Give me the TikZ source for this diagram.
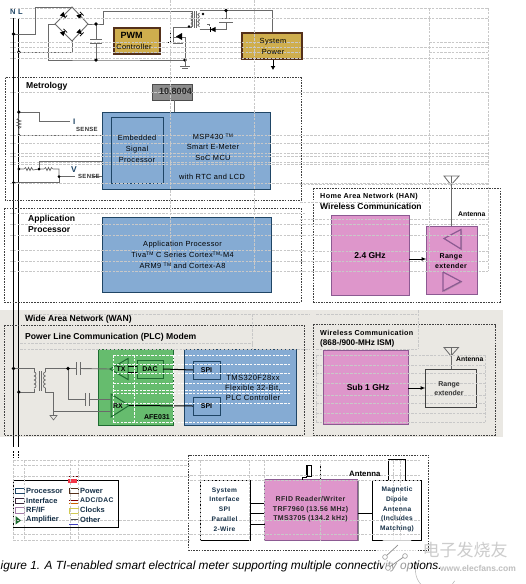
\documentclass[tikz,border=0pt]{standalone}
\usepackage{fontspec}
\setmainfont{Liberation Sans}
\newfontfamily\wide[LetterSpace=5]{Liberation Sans}
\newfontfamily\cjkwm{Noto Sans CJK SC}
\usetikzlibrary{shadows,arrows.meta,shapes.geometric}
\definecolor{wire}{HTML}{6A6A6A}
\definecolor{gold}{HTML}{CFAE4E}
\definecolor{goldedge}{HTML}{54301A}
\definecolor{tiblue}{HTML}{85ABD3}
\definecolor{blueedge}{HTML}{1F4565}
\definecolor{pinkfill}{HTML}{DE96CB}
\definecolor{pinkedge}{HTML}{8C5A92}
\definecolor{greenfill}{HTML}{66BC6E}
\definecolor{greenedge}{HTML}{1E6B30}
\definecolor{wanbg}{HTML}{EAE8E3}
\definecolor{gridc}{HTML}{C8C8C8}
\tikzset{
  x=1pt,y=-1pt,
  basebox/.style={rectangle,inner sep=0pt,outer sep=0pt},
  shade box/.style={drop shadow={shadow xshift=1.2pt,shadow yshift=-1.2pt,opacity=.45,fill=black}},
  goldbox/.style={basebox,draw=goldedge,line width=1.1pt,fill=gold,shade box},
  bluebox/.style={basebox,draw=blueedge,line width=1pt,fill=tiblue,shade box},
  pinkbox/.style={basebox,draw=pinkedge,line width=1pt,fill=pinkfill,shade box},
  greenbox/.style={basebox,draw=greenedge,line width=1pt,fill=greenfill,shade box},
  whitebox/.style={basebox,draw=black,line width=.9pt,fill=white},
  plainbox/.style={basebox,draw=wire!60!black,line width=.9pt,fill=none},
  region/.style={draw=black!75,dash pattern=on 1.6pt off 1.1pt,line width=.8pt},
  wireline/.style={draw=wire,line width=.9pt},
  sigline/.style={draw=black,line width=1pt},
  dot/.style={circle,fill=black,inner sep=0pt,minimum size=3.6pt},
  lab/.style={inner sep=0pt,anchor=west,font=\fontsize{8.6}{10.5}\selectfont\bfseries,text=black},
  widelab/.style={inner sep=0pt,anchor=west,font=\wide\fontsize{8}{10}\selectfont,text=black},
  small/.style={inner sep=0pt,anchor=west,font=\fontsize{7.2}{9}\selectfont,text=black},
  boxtext/.style={inner sep=0pt,align=center,font=\wide\fontsize{7.4}{10.5}\selectfont,text=black},
  smalltext/.style={inner sep=0pt,align=center,font=\fontsize{7}{8}\selectfont\bfseries,text=black},
  sidetext/.style={inner sep=0pt,align=center,font=\wide\fontsize{6.6}{9.8}\selectfont\bfseries,text=blueedge!70!black},
  gridline/.style={draw=gridc,line width=.55pt,dash pattern=on 2.6pt off 1.2pt},
  gridwhite/.style={draw=white!90!gridc,line width=.55pt,dash pattern=on 2.6pt off 1.2pt},
}
\newcommand{\bx}[6]{\node[#6,minimum width={(#4-#2)*1pt},minimum height={(#5-#3)*1pt}] (#1) at ({(#2+#4)/2},{(#3+#5)/2}) {};}
\newcommand{\hg}[3]{\draw[gridline] (#2,#1) -- (#3,#1);}
\newcommand{\vg}[3]{\draw[gridline] (#1,#2) -- (#1,#3);}
\newcommand{\tmk}{\raisebox{2pt}{\fontsize{5}{6}\selectfont TM}}
\newcommand{\diodeat}[3]{\fill[black,shift={(#1,#2)},rotate=#3] (-2.6,-2.6) -- (-2.6,2.6) -- (2.6,0) -- cycle;\draw[black,line width=.8pt,shift={(#1,#2)},rotate=#3] (2.6,-2.6) -- (2.6,2.6);}
\begin{document}
\begin{tikzpicture}
\useasboundingbox (0,0) rectangle (526,584);
\fill[white] (0,0) rectangle (526,584);
% WAN band
\fill[wanbg] (0,310) rectangle (503,437);

% mains lines
\coordinate (Ntop) at (13.5,18); \coordinate (Nbot) at (13.5,447);
\coordinate (Ltop) at (18.8,18); \coordinate (Lbot) at (18.8,447);
\draw[black,line width=1pt] (Ntop) -- (Nbot);
\draw[black,line width=1pt] (Ltop) -- (Lbot);
\draw[black,line width=1pt,dash pattern=on 2pt off 1.2pt] (13.5,451) -- (13.5,458);
\draw[black,line width=1pt,dash pattern=on 2pt off 1.2pt] (18.8,451) -- (18.8,458);
\node[inner sep=0pt,font=\fontsize{7.5}{9}\selectfont\bfseries,text=blueedge] (Nlab) at (12.8,12) {N};
\node[inner sep=0pt,font=\fontsize{7.5}{9}\selectfont\bfseries,text=blueedge] (Llab) at (20.5,12) {L};

% bridge
\coordinate (brT) at (72,7); \coordinate (brL) at (55,24); \coordinate (brR) at (88,24); \coordinate (brB) at (72,41);
\draw[wireline] (brT) -- (brR) -- (brB) -- (brL) -- cycle;
\diodeat{63.5}{15.5}{-45}\diodeat{80}{15.5}{45}\diodeat{63.5}{32.5}{45}\diodeat{80}{32.5}{-45}
\coordinate (Nj) at (13.5,34); \coordinate (Lj) at (18.8,52);
\coordinate (capT) at (96,24); \coordinate (capB) at (96,60); \coordinate (srcj) at (185,60);
\draw[wireline] (Nj) -| (35,7) -- (brT);
\draw[wireline] (Lj) -| (brB);
\draw[wireline] (brL) -| (48,60) -- (capB) -- (srcj);
\draw[wireline] (brR) -- (capT) -- (103,24) |- (192,11);
\draw[wireline] (capT) -- (96,39.5);
\draw[wireline] (96,43.5) -- (capB);
\draw[wire,line width=1pt] (90,39.5) -- (102,39.5);
\draw[wire,line width=1pt] (90,43.5) -- (102,43.5);
\foreach \c in {Nj,Lj,capT,capB,srcj} \node[dot] at (\c) {};

% PWM
\bx{pwm}{114}{28}{160}{54}{goldbox}
% MOSFET
\coordinate (gate) at (170,42.5);
\draw[black,line width=.7pt,dash pattern=on 1pt off 1pt] (pwm.east |- gate) -- (gate);
\draw[black,line width=.9pt] (170,31) -- (170,43);
\draw[wire,line width=.9pt] (173,31) -- (173,44);
\draw[wire,line width=.9pt] (173,27) -- (192,27);
\draw[wire,line width=.9pt] (173,31) -- (173,27);
\draw[wire,line width=.9pt] (173,37) -- (185,37) -- (srcj);
\fill[black] (176,36.5) -- (182,33) -- (182,40) -- cycle;
\draw[wire,line width=.9pt] (173,43) -- (183,43);
\draw[wire,line width=.9pt] (srcj) -- (185,66);
\draw[wire,line width=.9pt] (180,66.5) -- (190,66.5);
\draw[wire,line width=.6pt] (182,68.5) -- (188,68.5);
% transformer
\draw[wire,line width=.9pt] (192,11) -- (192,27);
\foreach \y in {13,16.5,20,23.5}{\draw[wire,line width=.8pt] (191,\y) arc (-90:90:1.7);\draw[wire,line width=.8pt] (199.5,\y+3.4) arc (90:270:1.7);}
\draw[wire,line width=.9pt] (194.5,11) -- (194.5,28);
\draw[wire,line width=.9pt] (196.5,11) -- (196.5,28);
\node[dot,minimum size=2.8pt] at (203,14) {};
\node[dot,minimum size=2.8pt] at (189,26.5) {};
% secondary
\coordinate (secT) at (226,10.5);
\draw[wire,line width=.9pt] (199.5,10.5) -- (secT) -- (272,10.5) -- (272,33);
\draw[wire,line width=.9pt] (199.5,29.5) -- (226,29.5);
\draw[wire,line width=.9pt] (226,29.5) -- (226,22);
\draw[wire,line width=.9pt] (secT) -- (226,18);
\draw[wire,line width=1pt] (219,18.5) -- (233,18.5);
\draw[wire,line width=1pt] (219,22) -- (233,22);
\diodeat{213}{29.5}{180}
\draw[wire,line width=.7pt] (207,24) -- (209,24) -- (209,26);
\node[dot] at (secT) {};
% system power
\bx{sys}{242}{33}{302}{59}{goldbox}
\coordinate (sysout) at (273,70);
\draw[black,line width=1pt,-{Latex[length=4pt,width=5pt]}] (273,59.5) -- (sysout);

% Metrology
\draw[region] (5,77.5) rectangle (301,200);
\bx{lcd}{152}{84}{192}{100}{basebox}
\fill[black!45] (lcd.north west) rectangle (lcd.south east);
\draw[black!70,line width=.6pt] (lcd.north west) rectangle (lcd.south east);
\bx{msp}{102}{112}{270}{189}{bluebox}
\bx{dsp}{111}{117}{163}{183}{bluebox}
\coordinate (lcdwire) at (174,100);
\draw[wireline] (lcdwire) -- (lcdwire |- msp.north);
% sense
\coordinate (Ij) at (18.8,112); \coordinate (Ij2) at (18.8,135);
\draw[wireline] (Ij) -- (39,112) -- (39,121.5) -- (70,121.5);
\draw[wire,line width=.7pt] (18.8,112) -- (18.8,118) -- (17,119.5) -- (21,121) -- (17,122.5) -- (21,124) -- (17,125.5) -- (21,127) -- (18.8,128.5) -- (Ij2);
\node[dot] at (Ij) {};
\node[dot,minimum size=2.5pt] at (Ij2) {};
\draw[wireline] (Ij2) -- (102,135);
\coordinate (Vj) at (18.8,169); \coordinate (Vm) at (39,169); \coordinate (Vr) at (59,176.5);
\draw[wire,line width=.7pt] (Vj) -- (24,169) -- (25.5,167.5) -- (27,170.5) -- (28.5,167.5) -- (30,170.5) -- (31.5,167.5) -- (33,170) -- (Vm) -- (44,169) -- (45.5,167.5) -- (47,170.5) -- (48.5,167.5) -- (50,170.5) -- (51.5,167.5) -- (53,169) -- (59,169) -- (Vr);
\draw[wireline] (Vm) |- (102,161);
\draw[wireline] (Vr) -- (59,182.5) -- (13.5,182.5);
\draw[wireline] (Vr) -- (75,176.5);
\draw[wireline] (92,176.5) -- (102,176.5);
\foreach \c in {Vj,Vm,Vr} \node[dot,minimum size=3pt] at (\c) {};
\node[dot,minimum size=3pt] at (13.5,182.5) {};

% Application
\draw[region] (4,208) rectangle (301,302);
\bx{apb}{102}{217}{271}{292}{bluebox}

% HAN
\draw[region] (313.5,188) rectangle (500,302);
\bx{ghz}{331}{215}{409}{295}{pinkbox}
\bx{rng}{426.5}{226}{477}{294}{pinkbox}
\coordinate (arr1) at (0,259);
\draw[sigline,-{Latex[length=5pt,width=4pt]}] (ghz.east |- arr1) -- (rng.west |- arr1);
\coordinate (ant1b) at (451,226); \coordinate (ant1t) at (451,176);
\draw[wireline] (ant1b) -- (ant1t);
\draw[wire,line width=.8pt] (444,176) -- (459,176) -- (451,185) -- cycle;
\draw[pinkedge,line width=1.2pt,fill=pinkfill,drop shadow={shadow xshift=1pt,shadow yshift=-1pt,opacity=.4}] (444,238.5) -- (461,229.5) -- (461,249) -- cycle;
\draw[pinkedge,line width=1.2pt,fill=pinkfill,drop shadow={shadow xshift=1pt,shadow yshift=-1pt,opacity=.4}] (443,272) -- (461,281.5) -- (443,291) -- cycle;

% WAN
\draw[region] (4,325) rectangle (304,435);
\bx{afe}{98}{349}{173}{425}{greenbox}
\bx{f28}{184}{349}{296}{425}{bluebox}
\bx{spi1}{193}{361}{220}{379}{bluebox}
\bx{spi2}{193}{397}{220}{415}{bluebox}
\bx{dac}{137}{360}{163}{378}{greenbox}
\coordinate (txtip) at (110,369);
\draw[greenedge,line width=1pt,fill=greenfill] (txtip) -- (128,358.5) -- (128,379.5) -- cycle;
\coordinate (rxtip) at (129,405.5);
\draw[greenedge,line width=1pt,fill=greenfill] (111,394) -- (rxtip) -- (111,417) -- cycle;
\draw[black,line width=.9pt] (128,366) -- (137,366);
\draw[black,line width=.9pt] (128,372) -- (137,372);
\draw[black,line width=1pt] (dac.east) -- (spi1.west);
\draw[black,line width=1pt] (rxtip) -- (spi2.west);
% PLC analog front
\coordinate (N2) at (13.5,368.5); \coordinate (L2) at (18.8,392); \coordinate (tj) at (68,368.5);
\draw[wireline] (N2) -- (34,368.5) -- (34,372);
\draw[wireline] (L2) -- (34,392) -- (34,389);
\foreach \y in {372,376,380,384}{\draw[wire,line width=.7pt] (34,\y) arc (-90:90:2);\draw[wire,line width=.7pt] (45.5,\y+4) arc (90:270:2);}
\draw[wire,line width=.9pt] (39.5,371) -- (39.5,391);
\draw[wire,line width=.9pt] (41.5,371) -- (41.5,391);
\draw[wireline] (45.5,372) -- (45.5,368.5) -- (tj) -- (76,368.5);
\draw[wire,line width=1pt] (76,362) -- (76,375);
\draw[wire,line width=1pt] (80,362) -- (80,375);
\draw[wireline] (80,368.5) -- (txtip);
\draw[wireline] (tj) -- (68,399.5) -- (85,399.5);
\draw[wire,line width=1pt] (85,393) -- (85,406);
\draw[wire,line width=1pt] (89,393) -- (89,406);
\draw[wireline] (89,399.5) -- (111,399.5);
\draw[wireline] (45.5,388) -- (45.5,392) -- (53.5,392) -- (53.5,411) -- (111,411);
\draw[wireline] (53.5,411) -- (53.5,415);
\draw[wire,line width=.6pt] (50,415.5) -- (57,415.5) -- (53.5,420) -- cycle;
\foreach \c in {N2,L2,tj} \node[dot] at (\c) {};

% Wireless WAN
\draw[region] (313,324.5) rectangle (495,435);
\bx{sub}{323.5}{350}{408}{424}{pinkbox}
\bx{rng2}{425.5}{369}{476}{407.5}{plainbox}
\coordinate (arr2) at (0,388);
\draw[sigline,-{Latex[length=5pt,width=4pt]}] (sub.east |- arr2) -- (rng2.west |- arr2);
\coordinate (ant2t) at (451,348);
\draw[wireline] (rng2.north -| ant2t) -- (ant2t);
\draw[wire,line width=.8pt] (444,347.5) -- (458.5,347.5) -- (451,356) -- cycle;

% Legend
\draw[black,line width=.9pt] (13,480) rectangle (118.5,527);
\fill[red!65!pinkfill] (68,479) rectangle (77,483);
\draw[red!40!black,line width=.7pt] (68,476.5) -- (78,476.5);
\draw[blueedge,line width=.8pt] (15.5,488) rectangle (24,493);
\draw[black!60!pinkedge,line width=.8pt] (15.5,498) rectangle (24,503);
\draw[pinkedge!80,line width=1pt] (15.5,507.5) rectangle (24,513);
\fill[greenedge] (15.5,516) -- (21,520.5) -- (15.5,524.5) -- cycle;
\draw[goldedge,line width=.8pt] (69,488) rectangle (78,493);
\draw[red!50!black,line width=.8pt] (69,500.5) -- (78,500.5);
\draw[orange!80!black,line width=.6pt] (69,503) -- (78,503);
\draw[yellow!60!gray,line width=.8pt] (69,508) rectangle (78,513);
\draw[black!70,line width=.6pt] (70,519.5) -- (78,519.5);
\draw[blue!50!gray,line width=.8pt] (69,524.5) -- (78,524.5);

% RFID
\draw[region] (188.5,455) rectangle (428.5,550);
\bx{sif}{200.5}{480.5}{250}{540}{whitebox}
\draw[black,line width=1.2pt,dash pattern=on 1pt off .6pt] (200.5,480.5) -- (250,480.5);
\bx{rfid}{264.5}{479}{357.5}{540}{pinkbox}
\bx{mag}{372.5}{480.5}{421.5}{540}{whitebox}
\draw[black,line width=1.2pt,dash pattern=on 1pt off .6pt] (372.5,480.5) -- (421.5,480.5);
\coordinate (ifa) at (0,503); \coordinate (ifb) at (0,513); \coordinate (ifc) at (0,524.5);
\draw[black,line width=.9pt] (sif.east |- ifa) -- (rfid.west |- ifa);
\draw[black,line width=.9pt] (sif.east |- ifb) -- (rfid.west |- ifb);
\draw[black,line width=.9pt] (sif.east |- ifc) -- (rfid.west |- ifc);
\draw[black,line width=.9pt] (rfid.east |- ifb) -- (mag.west |- ifb);
% RFID antenna
\draw[black,line width=.8pt] (302.5,481) -- (302.5,477.5) -- (306.5,477.5) -- (306.5,465);
\draw[black,line width=.5pt] (307,465) rectangle (311,476);
\draw[black,line width=.8pt] (320.5,481) -- (320.5,466);
\draw[black,line width=.9pt] (388.5,480) -- (388.5,459.5) -- (405.5,459.5) -- (405.5,480);

% grid lines
\foreach \y in {8,18,47,58,92,135,143,153,156,162,164,183} {\hg{\y}{10}{488}}
\foreach \y in {42,52} {\hg{\y}{429}{488}\hg{\y}{10}{300}}
\vg{170}{0}{272}
\vg{254}{0}{272}
\vg{429}{8}{271}
\vg{488}{8}{271}
\foreach \y in {202} {\hg{\y}{300}{423}}
\foreach \y in {184,219,224,235,251,261,271} {\hg{\y}{300}{488}}
\foreach \y in {213,224,235,250,261,271} {\hg{\y}{10}{305}}
\hg{314}{24}{310}\hg{343}{20}{252}\hg{349}{20}{310}\vg{252}{314}{349}
\hg{314}{316}{418}\hg{349}{316}{418}\vg{418}{310}{349}
\foreach \y in {355,365,373,383,395,403,413,422} {\hg{\y}{316}{485}}
\vg{316}{355}{422}\vg{485}{355}{422}
\foreach \y in {355,364,373,383,390,393,403,422} {\draw[gridwhite] (113,\y) -- (290,\y);}
\foreach \x in {113,134,173} {\draw[gridwhite] (\x,355) -- (\x,422);}
\foreach \y in {460,465,476,520,534,540} {\hg{\y}{13}{190}}
\foreach \y in {460,475,480,520,534} {\hg{\y}{190}{420}}
\foreach \x in {13,24,70,78} {\vg{\x}{460}{540}}
\foreach \x in {200,249,264,320} {\vg{\x}{460}{540}}
\foreach \x in {393,400} {\vg{\x}{461}{540}}

% ---- texts ----
\node[inner sep=0pt,font=\fontsize{9}{10}\selectfont\bfseries] (pwmt) at (131.5,35.5) {PWM};
\node[boxtext] (pwmb) at (134,47) {Controller};
\node[boxtext,font=\wide\fontsize{7.4}{11}\selectfont] (syst) at (273,46.5) {System\\Power};
\node[lab] (met) at (26,86.5) {Metrology};
\node[inner sep=0pt,font=\fontsize{9}{10}\selectfont\bfseries,text=black!85] (lcdt) at (175.5,91.5) {10.8004};
\node[boxtext] (dspa) at (137,138) {Embedded};
\node[boxtext] (dspb) at (137,154.5) {Signal\\Processor};
\node[boxtext,font=\wide\fontsize{7.4}{10.5}\selectfont] (mspt) at (213,147) {MSP430 \tmk\\Smart E-Meter\\SoC MCU};
\node[boxtext] (mspr) at (212,177) {with RTC and LCD};
\node[inner sep=0pt,anchor=west,font=\fontsize{8}{9}\selectfont\bfseries,text=blueedge] (Is) at (73,122) {I};
\node[inner sep=0pt,anchor=west,font=\wide\fontsize{6}{7}\selectfont\bfseries,text=black!80] (Iss) at (76,129) {SENSE};
\node[inner sep=0pt,anchor=west,font=\fontsize{8.5}{9}\selectfont\bfseries,text=blueedge] (Vs) at (71,170) {V};
\node[inner sep=0pt,anchor=west,font=\wide\fontsize{6}{7}\selectfont\bfseries,text=black!80] (Vss) at (78,176.5) {SENSE};
\node[lab,align=left,font=\fontsize{8.6}{11}\selectfont\bfseries] (app) at (28,224) {Application\\Processor};
\node[boxtext,font=\wide\fontsize{7.4}{11}\selectfont] (apbt) at (182.5,255) {Application Processor\\Tiva\tmk\ C Series Cortex\tmk-M4\\ARM9 \tmk\ and Cortex-A8};
\node[widelab,font=\wide\fontsize{7.2}{9}\selectfont\bfseries] (han) at (320,197) {Home Area Network (HAN)};
\node[lab,font=\fontsize{8.5}{10}\selectfont\bfseries] (han2) at (320,206.5) {Wireless Communication};
\node[inner sep=0pt,font=\fontsize{8.5}{10}\selectfont\bfseries] (ghzt) at (370,256) {2.4 GHz};
\node[boxtext,font=\wide\fontsize{7}{9.8}\selectfont\bfseries] (rngt) at (451,261) {Range\\extender};
\node[small,font=\fontsize{6.8}{8}\selectfont\bfseries] (ant1) at (458,214) {Antenna};
\node[lab] (wan) at (25,319) {Wide Area Network (WAN)};
\node[lab] (plc) at (25,337) {Power Line Communication (PLC) Modem};
\node[boxtext,font=\wide\fontsize{7.6}{10.2}\selectfont] (f28t) at (253,388) {TMS320F28xx\\Flexible 32-Bit,\\PLC Controller};
\node[smalltext] (spi1t) at (spi1.center) {SPI};
\node[smalltext] (spi2t) at (spi2.center) {SPI};
\node[smalltext] (dact) at (dac.center) {DAC};
\node[smalltext] (afet) at (157,417.5) {AFE031};
\node[smalltext] (txl) at (121,369) {TX};
\node[smalltext] (rxlb) at (118,406) {RX};
\node[widelab,font=\wide\fontsize{7.2}{9}\selectfont\bfseries] (isma) at (320,333) {Wireless Communication};
\node[lab,font=\fontsize{8.2}{10}\selectfont\bfseries] (ismb) at (320,343) {(868-/900-MHz ISM)};
\node[inner sep=0pt,font=\fontsize{8.5}{10}\selectfont\bfseries] (subt) at (368,387.5) {Sub 1 GHz};
\node[boxtext,font=\fontsize{7}{8.8}\selectfont\bfseries,text=black!80] (rng2t) at (449,389) {Range\\extender};
\node[small,font=\fontsize{6.8}{8}\selectfont\bfseries] (ant2) at (456,359) {Antenna};
\tikzset{lg/.style={inner sep=0pt,anchor=west,font=\fontsize{7.5}{9}\selectfont\bfseries,text=blueedge!70!black}}
\node[lg] (l1) at (26,490.5) {Processor};
\node[lg] (l2) at (26,500.5) {Interface};
\node[lg] (l3) at (26,510) {RF/IF};
\node[lg] (l4) at (26,519.5) {Amplifier};
\node[lg] (l5) at (80,490.5) {Power};
\node[lg,font=\wide\fontsize{6.8}{9}\selectfont\bfseries] (l6) at (80,500.5) {ADC/DAC};
\node[lg] (l7) at (80,510) {Clocks};
\node[lg] (l8) at (80,519.5) {Other};
\node[sidetext] (sift) at (224.5,509.5) {System\\Interface\\SPI\\Parallel\\2-Wire};
\node[boxtext,font=\wide\fontsize{7}{9.6}\selectfont\bfseries,text=black!85] (rfidt) at (310.5,509.5) {RFID Reader/Writer\\TRF7960 (13.56 MHz)\\TMS3705 (134.2 kHz)};
\node[sidetext] (magt) at (397,509.5) {Magnetic\\Dipole\\Antenna\\(Includes\\Matching)};
\node[lab,font=\fontsize{7.8}{9}\selectfont\bfseries] (antr) at (349,474) {Antenna};

% watermark circle, under caption
\fill[white,opacity=.8] (397,556) circle (21);
\draw[black!30,line width=.5pt] (397,556) ++(20:21) arc (20:-150:-21);
% caption
\node[inner sep=0pt,anchor=west,font=\fontsize{11.85}{13}\selectfont\itshape,text=black] (cap) at (0.5,566.5) {igure 1. A TI-enabled smart electrical meter supporting multiple connectivity options.};
% watermark
\fill[white,opacity=.6] (383,560) rectangle (411,573);
\draw[black!45,line width=.7pt] (385,557) -- (398,545);
\draw[black!45,line width=.7pt] (388,568) -- (405,556);
\draw[black!40,fill=white,line width=.6pt] (385,557) circle (2.4);
\draw[black!40,fill=white,line width=.6pt] (405,556) circle (2.4);
\draw[black!40,fill=white,line width=.6pt] (388,568) circle (2.4);
\node[inner sep=0pt,font=\cjkwm\fontsize{17}{18}\selectfont,text=black!20] (wm1) at (465,550) {电子发烧友};
\node[inner sep=0pt,font=\fontsize{8.5}{10}\selectfont\bfseries,text=black!25] (wm2) at (478,568) {www.elecfans.com};
\end{tikzpicture}
\end{document}
